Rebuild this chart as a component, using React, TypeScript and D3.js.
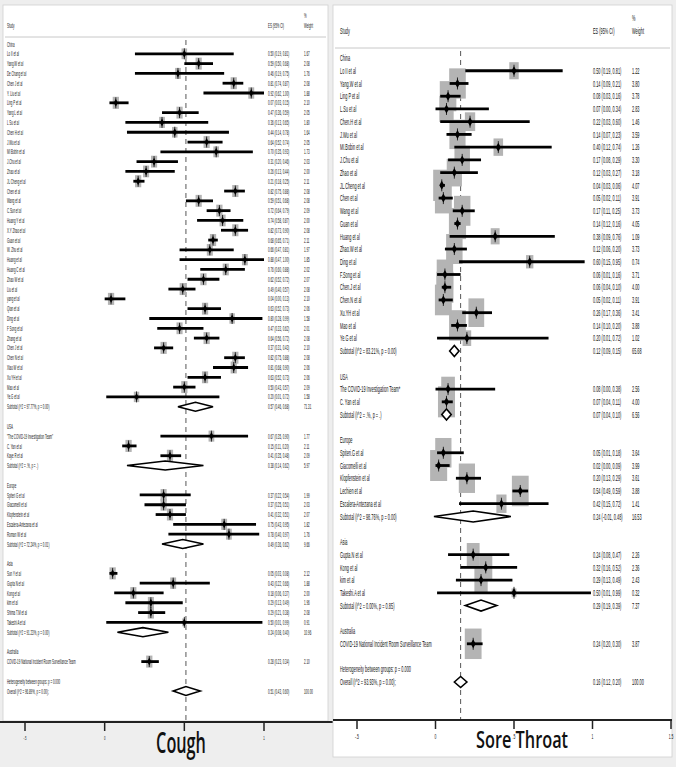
import React from "react";
import * as d3 from "d3";

// [study, ES, lower, upper, % weight]
type Row = [string, number, number, number, number];

const coughChina: Row[] = [
  ["Lo II et al", 0.5, 0.19, 0.81, 1.67],
  ["Yang.W et al", 0.59, 0.5, 0.68, 2.08],
  ["De Chang et al", 0.46, 0.19, 0.75, 1.76],
  ["Chen J et al", 0.81, 0.74, 0.87, 2.08],
  ["Y. Liu et al", 0.92, 0.62, 1.0, 1.88],
  ["Ling P et al", 0.07, 0.03, 0.15, 2.1],
  ["Yang L et al", 0.47, 0.36, 0.59, 2.05],
  ["L Su et al", 0.36, 0.13, 0.65, 1.8],
  ["Chen H et al", 0.44, 0.14, 0.78, 1.64],
  ["J.Wu et al", 0.64, 0.52, 0.74, 2.05],
  ["MI Bobin et al", 0.7, 0.35, 0.93, 1.73],
  ["J.Chu et al", 0.31, 0.2, 0.46, 2.03],
  ["Zhao et al", 0.26, 0.13, 0.44, 2.0],
  ["JL Cheng et al", 0.21, 0.18, 0.25, 2.11],
  ["Chen et al", 0.82, 0.75, 0.88, 2.08],
  ["Wang et al", 0.59, 0.51, 0.68, 2.08],
  ["C.Sun et al", 0.72, 0.64, 0.79, 2.09],
  ["Huang Y et al", 0.74, 0.58, 0.87, 2.0],
  ["X.Y Zhao et al", 0.82, 0.73, 0.9, 2.08],
  ["Guan et al", 0.68, 0.65, 0.71, 2.11],
  ["W. Zhu et al", 0.66, 0.47, 0.81, 1.97],
  ["Huang et al", 0.88, 0.47, 1.0, 1.85],
  ["Huang C et al", 0.76, 0.6, 0.88, 2.02],
  ["Zhao W et al", 0.62, 0.52, 0.72, 2.07],
  ["Liu et al", 0.49, 0.4, 0.57, 2.08],
  ["yang et al", 0.04, 0.0, 0.13, 2.1],
  ["Qian et al", 0.63, 0.52, 0.73, 2.06],
  ["Ding et al", 0.8, 0.28, 0.99, 1.58],
  ["F Song et al", 0.47, 0.33, 0.62, 2.01],
  ["Zhang et al", 0.64, 0.56, 0.72, 2.08],
  ["Chen J et al", 0.37, 0.31, 0.43, 2.1],
  ["Chen N et al", 0.82, 0.75, 0.88, 2.08],
  ["Xiao W et al", 0.81, 0.68, 0.9, 2.06],
  ["Xu YH et al", 0.63, 0.52, 0.73, 2.06],
  ["Mao et al", 0.5, 0.43, 0.57, 2.09],
  ["Ye.G et al", 0.2, 0.01, 0.72, 1.58],
];
const coughUSA: Row[] = [
  ["\"The COVID-19 Investigation Team\"", 0.67, 0.35, 0.9, 1.77],
  ["C. Yan et al", 0.15, 0.11, 0.2, 2.11],
  ["Kaye R et al", 0.41, 0.35, 0.48, 2.09],
];
const coughEurope: Row[] = [
  ["Spiteri G et al", 0.37, 0.22, 0.54, 1.99],
  ["Giacomelli et al", 0.37, 0.25, 0.51, 2.03],
  ["Klopfenstein et al", 0.41, 0.32, 0.51, 2.07],
  ["Escalera-Antezana et al", 0.75, 0.43, 0.95, 1.82],
  ["Roman W et al", 0.78, 0.4, 0.97, 1.76],
];
const coughAsia: Row[] = [
  ["Sun Y et al", 0.05, 0.03, 0.08, 2.12],
  ["Gupta N et al", 0.43, 0.22, 0.66, 1.88],
  ["Kong et al", 0.18, 0.06, 0.37, 2.0],
  ["kim et al", 0.29, 0.13, 0.49, 1.96],
  ["Shima T.M et al", 0.29, 0.21, 0.38, 2.08],
  ["Takeshi A et al", 0.5, 0.01, 0.99, 0.91],
];
const coughAustralia: Row[] = [
  ["COVID-19 National Incident Room Surveillance Team", 0.28, 0.23, 0.34, 2.1],
];
const coughSubtotals: (Row | null)[] = [
  ["Subtotal  (I^2 = 97.77%, p = 0.00)", 0.57, 0.46, 0.68, 71.31],
  ["Subtotal  (I^2 = .%, p = .)", 0.38, 0.14, 0.62, 5.97],
  ["Subtotal  (I^2 = 72.24%, p = 0.01)", 0.49, 0.36, 0.62, 9.66],
  ["Subtotal  (I^2 = 91.23%, p = 0.00)", 0.24, 0.08, 0.4, 10.96],
  null,
];
const coughOverall: Row = ["Overall  (I^2 = 96.89%, p = 0.00);", 0.51, 0.43, 0.6, 100.0];

const throatChina: Row[] = [
  ["Lo II et al", 0.5, 0.19, 0.81, 1.22],
  ["Yang.W et al", 0.14, 0.09, 0.21, 3.8],
  ["Ling P et al", 0.08, 0.03, 0.16, 3.78],
  ["L.Su et al", 0.07, 0.0, 0.34, 2.83],
  ["Chen.H et al", 0.22, 0.03, 0.6, 1.46],
  ["J.Wu et al", 0.14, 0.07, 0.23, 3.59],
  ["MI.Bobin et al", 0.4, 0.12, 0.74, 1.26],
  ["J.Chu et al", 0.17, 0.08, 0.29, 3.3],
  ["Zhao et al", 0.12, 0.03, 0.27, 3.18],
  ["JL.Cheng et al", 0.04, 0.03, 0.06, 4.07],
  ["Chen et al", 0.05, 0.02, 0.11, 3.91],
  ["Wang et al", 0.17, 0.11, 0.25, 3.73],
  ["Guan et al", 0.14, 0.12, 0.16, 4.05],
  ["Huang et al", 0.38, 0.09, 0.76, 1.09],
  ["Zhao.W et al", 0.12, 0.06, 0.2, 3.73],
  ["Ding et al", 0.6, 0.15, 0.95, 0.74],
  ["F.Song et al", 0.06, 0.01, 0.16, 3.71],
  ["Chen.J et al", 0.06, 0.04, 0.1, 4.0],
  ["Chen.N et al", 0.05, 0.02, 0.11, 3.91],
  ["Xu.YH et al", 0.26, 0.17, 0.36, 3.41],
  ["Mao et al", 0.14, 0.1, 0.2, 3.88],
  ["Ye.G et al", 0.2, 0.01, 0.72, 1.02],
];
const throatUSA: Row[] = [
  ["The COVID-19 Investigation Team*", 0.08, 0.0, 0.38, 2.56],
  ["C. Yan et al", 0.07, 0.04, 0.11, 4.0],
];
const throatEurope: Row[] = [
  ["Spiteri.G et al", 0.05, 0.01, 0.18, 3.64],
  ["Giacomelli et al", 0.02, 0.0, 0.09, 3.99],
  ["Klopfenstein et al", 0.2, 0.13, 0.29, 3.61],
  ["Lechien et al", 0.54, 0.49, 0.59, 3.88],
  ["Escalera-Antezana et al", 0.42, 0.15, 0.72, 1.41],
];
const throatAsia: Row[] = [
  ["Gupta.N et al", 0.24, 0.08, 0.47, 2.26],
  ["Kong et al", 0.32, 0.16, 0.52, 2.36],
  ["kim et al", 0.29, 0.13, 0.49, 2.43],
  ["Takeshi.A et al", 0.5, 0.01, 0.99, 0.32],
];
const throatAustralia: Row[] = [
  ["COVID-19 National Incident Room Surveillance Team", 0.24, 0.2, 0.3, 3.87],
];
const throatSubtotals: (Row | null)[] = [
  ["Subtotal  (I^2 = 83.21%, p = 0.00)", 0.12, 0.09, 0.15, 65.68],
  ["Subtotal  (I^2 = .%, p = .)", 0.07, 0.04, 0.1, 6.56],
  ["Subtotal  (I^2 = 98.76%, p = 0.00)", 0.24, -0.01, 0.48, 16.53],
  ["Subtotal  (I^2 = 0.00%, p = 0.85)", 0.29, 0.19, 0.39, 7.37],
  null,
];
const throatOverall: Row = ["Overall  (I^2 = 93.93%, p = 0.00);", 0.16, 0.12, 0.2, 100.0];

const regions = ["China", "USA", "Europe", "Asia", "Australia"];
const hetText = "Heterogeneity between groups: p = 0.000";

const fmt = (v: number) => v.toFixed(2);
const esText = (r: Row) => `${fmt(r[1])} (${fmt(r[2])}, ${fmt(r[3])})`;
const tickFmt = (v: number) => (v === 0 ? "0" : String(v).replace("0.", "."));

type Kind = "group" | "study" | "sub" | "blank" | "het" | "overall";
interface Line { kind: Kind; label: string; row?: Row }

function buildLines(studies: Row[][], subs: (Row | null)[], overall: Row): Line[] {
  const out: Line[] = [];
  regions.forEach((g, i) => {
    out.push({ kind: "group", label: g });
    studies[i].forEach((r) => out.push({ kind: "study", label: r[0], row: r }));
    const s = subs[i];
    if (s) out.push({ kind: "sub", label: s[0], row: s });
    out.push({ kind: "blank", label: "" });
  });
  out.push({ kind: "het", label: hetText });
  out.push({ kind: "overall", label: overall[0], row: overall });
  return out;
}

interface Cfg {
  lines: Line[];
  box: [number, number, number, number];
  domain: [number, number];
  range: [number, number];
  ticks: number[];
  firstY: number;
  lastY: number;
  fs: number;
  sx: number;
  labelX: number;
  esX: number;
  wX: number;
  pctY: number;
  headY: number;
  ruleY: number;
  axisY: number;
  axisX: [number, number];
  boxK: number;
  boxAspect: number;
  dH: number;
  mW: number;
  mH: number;
  title: string;
  titleX: number;
  titleY: number;
  titleSize: number;
  titleSx: number;
  tickFs: number;
}

const T = ({ x, y, size, sx, anchor = "start", children }: any) => (
  <text
    transform={`translate(${x},${y}) scale(${sx},1)`}
    fontSize={size}
    textAnchor={anchor}
    dominantBaseline="central"
    fill="#111"
  >
    {children}
  </text>
);

function Panel({ c }: { c: Cfg }) {
  const x = d3.scaleLinear().domain(c.domain).range(c.range);
  const y = d3.scaleLinear().domain([0, c.lines.length - 1]).range([c.firstY, c.lastY]);
  const overall = c.lines[c.lines.length - 1].row!;
  const [bx, by, bw, bh] = c.box;
  const diamond = (r: Row, yy: number, h: number) =>
    `${x(r[2])},${yy} ${x(r[1])},${yy - h / 2} ${x(r[3])},${yy} ${x(r[1])},${yy + h / 2}`;

  return (
    <g fontFamily="'Liberation Sans', Arial, sans-serif">
      <rect x={bx} y={by} width={bw} height={bh} fill="#fff" stroke="#d0d0d0" strokeWidth={0.8} />
      {/* header */}
      <T x={c.labelX} y={c.headY} size={c.fs} sx={c.sx}>Study</T>
      <T x={c.esX} y={c.headY} size={c.fs} sx={c.sx}>ES (95% CI)</T>
      <T x={c.wX} y={c.pctY} size={c.fs} sx={c.sx}>%</T>
      <T x={c.wX} y={c.headY} size={c.fs} sx={c.sx}>Weight</T>
      <line x1={bx + 2} x2={bx + bw - 2} y1={c.ruleY} y2={c.ruleY} stroke="#c8c8c8" strokeWidth={1} />

      {/* reference line at overall estimate */}
      <line
        x1={x(overall[1])}
        x2={x(overall[1])}
        y1={c.ruleY + 3}
        y2={c.axisY}
        stroke="#444"
        strokeWidth={0.9}
        strokeDasharray="5,4"
      />

      {/* weight boxes */}
      {c.lines.map((l, i) => {
        if (l.kind !== "study") return null;
        const r = l.row!;
        const h = c.boxK * Math.sqrt(r[4]);
        const w = h * c.boxAspect;
        return <rect key={"b" + i} x={x(r[1]) - w / 2} y={y(i) - h / 2} width={w} height={h} fill="#b4b4b4" />;
      })}

      {c.lines.map((l, i) => {
        const yy = y(i);
        const r = l.row;
        return (
          <g key={i}>
            {l.label && <T x={c.labelX} y={yy} size={c.fs} sx={c.sx}>{l.label}</T>}
            {r && (
              <>
                <T x={c.esX} y={yy} size={c.fs} sx={c.sx}>{esText(r)}</T>
                <T x={c.wX} y={yy} size={c.fs} sx={c.sx}>{fmt(r[4])}</T>
              </>
            )}
            {l.kind === "study" && r && (
              <g>
                <line x1={x(r[2])} x2={x(r[3])} y1={yy} y2={yy} stroke="#000" strokeWidth={2.8} />
                <path
                  d={`M${x(r[1])},${yy - c.mH / 2} L${x(r[1]) + c.mW / 2},${yy} L${x(r[1])},${yy + c.mH / 2} L${x(r[1]) - c.mW / 2},${yy} Z`}
                  fill="#000"
                />
                <line x1={x(r[1])} x2={x(r[1])} y1={yy - c.mH / 2 - 1.5} y2={yy + c.mH / 2 + 1.5} stroke="#000" strokeWidth={0.8} />
              </g>
            )}
            {(l.kind === "sub" || l.kind === "overall") && r && (
              <polygon points={diamond(r, yy, c.dH)} fill="#fff" stroke="#000" strokeWidth={1.6} />
            )}
          </g>
        );
      })}

      {/* axis */}
      <line x1={c.axisX[0]} x2={c.axisX[1]} y1={c.axisY} y2={c.axisY} stroke="#222" strokeWidth={2} />
      {c.ticks.map((t) => (
        <g key={t}>
          <line x1={x(t)} x2={x(t)} y1={c.axisY} y2={c.axisY + 9} stroke="#222" strokeWidth={1.5} />
          <T x={x(t)} y={c.axisY + 16} size={c.tickFs} sx={c.sx} anchor="middle">{tickFmt(t)}</T>
        </g>
      ))}
      <text
        transform={`translate(${c.titleX},${c.titleY}) scale(${c.titleSx},1)`}
        fontFamily="'Open Sans', sans-serif"
        fontWeight={600}
        fontSize={c.titleSize}
        textAnchor="middle"
        fill="#111"
      >
        {c.title}
      </text>
    </g>
  );
}

const coughCfg: Cfg = {
  lines: buildLines([coughChina, coughUSA, coughEurope, coughAsia, coughAustralia], coughSubtotals, coughOverall),
  box: [3, 5, 325, 716],
  domain: [-0.5, 1],
  range: [25, 264],
  ticks: [-0.5, 0, 0.5, 1],
  firstY: 44,
  lastY: 691,
  fs: 6.6,
  sx: 0.44,
  labelX: 7,
  esX: 268,
  wX: 304,
  pctY: 15,
  headY: 25,
  ruleY: 37,
  axisY: 722,
  axisX: [0, 334],
  boxK: 8.3,
  boxAspect: 0.52,
  dH: 9,
  mW: 4,
  mH: 8,
  title: "Cough",
  titleX: 181,
  titleY: 753,
  titleSize: 28,
  titleSx: 0.58,
  tickFs: 6,
};

const throatCfg: Cfg = {
  lines: buildLines([throatChina, throatUSA, throatEurope, throatAsia, throatAustralia], throatSubtotals, throatOverall),
  box: [333, 5, 339, 752],
  domain: [-0.5, 1.5],
  range: [357, 671],
  ticks: [-0.5, 0, 0.5, 1, 1.5],
  firstY: 58,
  lastY: 682,
  fs: 8.6,
  sx: 0.45,
  labelX: 340,
  esX: 593,
  wX: 632,
  pctY: 18,
  headY: 31,
  ruleY: 48,
  axisY: 720,
  axisX: [333, 672],
  boxK: 15.5,
  boxAspect: 0.55,
  dH: 11,
  mW: 5,
  mH: 9,
  title: "Sore Throat",
  titleX: 522,
  titleY: 748,
  titleSize: 24,
  titleSx: 0.68,
  tickFs: 7.5,
};

export default function App() {
  return (
    <svg
      width={676}
      height={767}
      style={{ position: "absolute", left: 0, top: 0, background: "#eeeeee" }}
    >
      <Panel c={coughCfg} />
      <Panel c={throatCfg} />
    </svg>
  );
}
